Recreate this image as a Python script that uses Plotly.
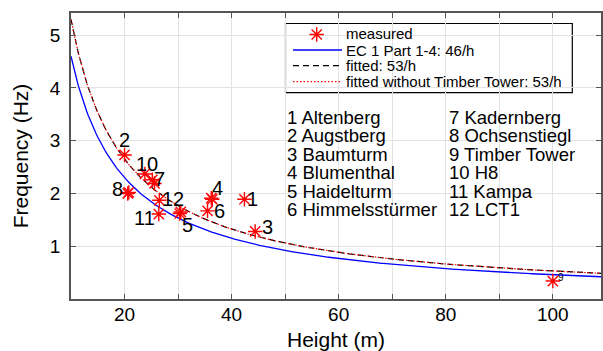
import numpy as np
import plotly.graph_objects as go

# ---------------- data ----------------
tower_ids = ["1", "2", "3", "4", "5", "6", "7", "8", "9", "10", "11", "12"]
tower_names = ["Altenberg", "Augstberg", "Baumturm", "Blumenthal", "Haidelturm",
               "Himmelsstürmer", "Kadernberg", "Ochsenstiegl", "Timber Tower",
               "H8", "Kampa", "LCT1"]
tower_height = [42.4, 20.0, 44.4, 36.2, 30.3, 35.5, 25.2, 20.8, 100.0, 23.8, 26.4, 26.5]
tower_freq = [1.89, 2.73, 1.28, 1.91, 1.62, 1.67, 2.26, 2.02, 0.34, 2.37, 1.61, 1.87]
# additional measurements (second mode / repeated measurements)
extra_height = [25.6, 20.6, 36.4, 30.5]
extra_freq = [2.19, 2.00, 1.89, 1.65]

coef_ec = 46      # EC 1 Part 1-4: 46/h
coef_fit = 53     # fitted: 53/h
coef_fit_wo = 53  # fitted without Timber Tower: 53/h

x_tickvals = [10, 20, 30, 40, 50, 60, 70, 80, 90, 100]
x_ticktext = ["", "20", "", "40", "", "60", "", "80", "", "100"]
y_tickvals = [1, 2, 3, 4, 5]

legend_labels = ["measured", "EC 1 Part 1-4: 46/h", "fitted: 53/h",
                 "fitted without Timber Tower: 53/h"]

# ---------------- figure ----------------
h = np.linspace(10, 109, 400)
FONT = "Liberation Sans, Arial, sans-serif"
GRID = "#e3e3e3"
AX = "#555555"

fig = go.Figure()
fig.add_trace(go.Scatter(x=h, y=coef_ec / h, mode="lines",
                         line=dict(color="#0000ff", width=1.3), showlegend=False))
fig.add_trace(go.Scatter(x=h, y=coef_fit / h, mode="lines",
                         line=dict(color="black", width=1.2, dash="6px,4px"), showlegend=False))
fig.add_trace(go.Scatter(x=h, y=coef_fit_wo / h, mode="lines",
                         line=dict(color="#ff0000", width=1.2, dash="1.5px,2px"), showlegend=False))

mk = dict(symbol="asterisk-open", size=12, color="#ff0000", line=dict(color="#ff0000", width=1.4))
fig.add_trace(go.Scatter(x=tower_height + extra_height, y=tower_freq + extra_freq,
                         mode="markers", marker=mk, showlegend=False))

# point labels
label_shift = {"1": (8, 0), "2": (0, 15), "3": (12, 4), "4": (6, 10), "5": (8, -11),
               "6": (12, 0), "7": (7, 1), "8": (-11, 3), "9": (8, 4), "10": (2, 10),
               "11": (-14, -4), "12": (14, 1)}
for tid, hx, fy in zip(tower_ids, tower_height, tower_freq):
    dx, dy = label_shift[tid]
    fig.add_annotation(x=hx, y=fy, xref="x", yref="y", text=tid, showarrow=False,
                       xshift=dx, yshift=dy, xanchor="center", yanchor="middle",
                       font=dict(family=FONT, size=10 if tid == "9" else 20, color="black"))

# tower name list (two columns)
W, H0, H1, L = 530.0, 299.0, 13.0, 71.0
def px2paper(px, py):
    return (px - L) / W, (H0 - py) / (H0 - H1)

for i, (tid, name) in enumerate(zip(tower_ids, tower_names)):
    col, row = divmod(i, 6)
    px = 284.5 if col == 0 else 447.0
    py = 117.0 + 18.5 * row
    xp, yp = px2paper(px, py)
    fig.add_annotation(x=xp, y=yp, xref="paper", yref="paper", text=f"{tid} {name}",
                       showarrow=False, xanchor="left", yanchor="middle",
                       font=dict(family=FONT, size=18.5, color="black"))

# manual legend
bx0, by0 = px2paper(285.5, 23.5)
bx1, by1 = px2paper(572.3, 92.7)
fig.add_shape(type="rect", xref="paper", yref="paper", x0=bx0, y0=by1, x1=bx1, y1=by0,
              line=dict(color="black", width=1.2), fillcolor="white", layer="between")
rows_py = [33.3, 50.0, 65.7, 81.7]
line_styles = [None,
               dict(color="#0000ff", width=1.3),
               dict(color="black", width=1.2, dash="6px,4px"),
               dict(color="#ff0000", width=1.2, dash="1.5px,2px")]
for lab, py, st in zip(legend_labels, rows_py, line_styles):
    tx, ty = px2paper(344, py)
    fig.add_annotation(x=tx, y=ty, xref="paper", yref="paper", text=lab, showarrow=False,
                       xanchor="left", yanchor="middle",
                       font=dict(family=FONT, size=15, color="black"))
    if st is not None:
        lx0, ly = px2paper(293, py)
        lx1, _ = px2paper(342, py)
        fig.add_shape(type="line", xref="paper", yref="paper", x0=lx0, x1=lx1, y0=ly, y1=ly,
                      line=st, layer="above")
ax_, ay_ = px2paper(316.7, 34.5)
fig.add_trace(go.Scatter(x=[ax_], y=[ay_], xaxis="x2", yaxis="y2", mode="markers",
                         marker=mk, showlegend=False))

fig.update_layout(
    width=603, height=351,
    margin=dict(l=71, r=2, t=13, b=52),
    paper_bgcolor="white", plot_bgcolor="white",
    font=dict(family=FONT, color="black"),
    showlegend=False,
    xaxis=dict(range=[10, 109], tickvals=x_tickvals, ticktext=x_ticktext,
               ticks="inside", ticklen=5, tickcolor=AX, tickwidth=1,
               showline=True, linecolor=AX, linewidth=1.5, mirror="ticks",
               showgrid=True, gridcolor=GRID, gridwidth=1, zeroline=False,
               tickfont=dict(size=19), ticklabelstandoff=-3, automargin=False,
               title=dict(text="Height (m)", font=dict(size=21), standoff=10)),
    yaxis=dict(range=[0, 5.42], tickvals=y_tickvals,
               ticks="inside", ticklen=5, tickcolor=AX, tickwidth=1,
               showline=True, linecolor=AX, linewidth=1.5, mirror="ticks",
               showgrid=True, gridcolor=GRID, gridwidth=1, zeroline=False,
               tickfont=dict(size=19), ticklabelstandoff=5, automargin=False,
               title=dict(text="Frequency (Hz)", font=dict(size=21), standoff=16)),
    xaxis2=dict(overlaying="x", range=[0, 1], visible=False),
    yaxis2=dict(overlaying="y", range=[0, 1], visible=False),
)

fig.write_html("out.html", config={"displayModeBar": False},
               post_script="document.body.style.margin='0';")
